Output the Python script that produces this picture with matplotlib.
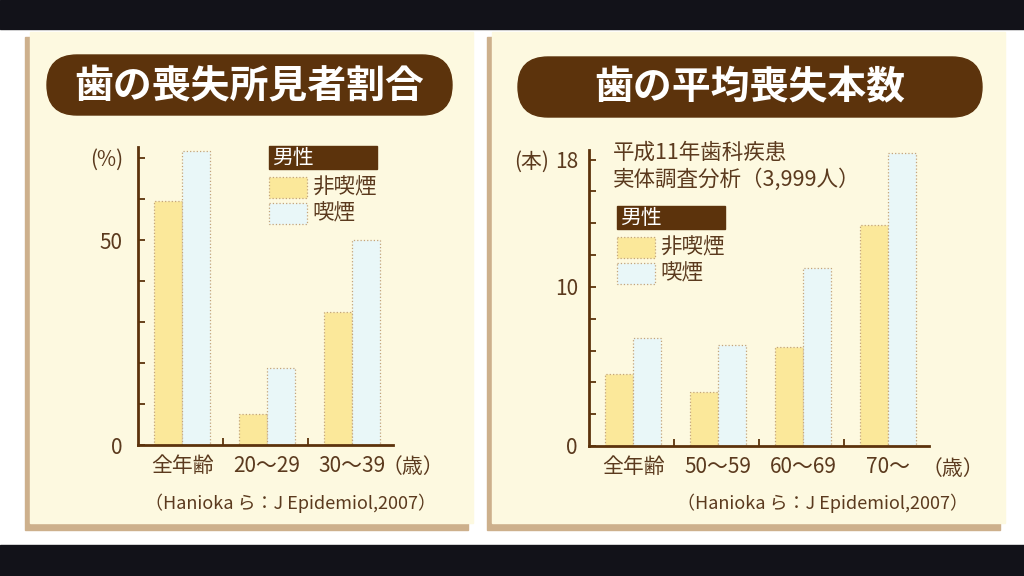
import matplotlib.pyplot as plt
from matplotlib.patches import Rectangle, FancyBboxPatch

plt.rcParams['font.family'] = ['Noto Sans CJK JP', 'DejaVu Sans']

# 左: 歯の喪失所見者割合 (%)
loss_cats = ['全年齢', '20〜29', '30〜39']
loss_nonsmoker = [59.5, 7.6, 32.4]
loss_smoker = [71.7, 18.8, 50.0]

# 右: 歯の平均喪失本数 (本)
count_cats = ['全年齢', '50〜59', '60〜69', '70〜']
count_nonsmoker = [4.5, 3.4, 6.2, 13.9]
count_smoker = [6.8, 6.35, 11.2, 18.4]

W, H = 1024, 576
BROWN = '#5c330c'
TEXT = '#5b3a1e'
CREAM = '#fdf9e0'
YELLOW = '#fbe89a'
CYAN = '#e9f7f8'
EDGE = '#c4a47a'
DARK = '#121219'

fig = plt.figure(figsize=(W / 100, H / 100), dpi=100)

# background layer in pixel coordinates
bg = fig.add_axes([0, 0, 1, 1])
bg.set_xlim(0, W)
bg.set_ylim(H, 0)
bg.axis('off')


def box(x0, y0, x1, y1, **kw):
    bg.add_patch(Rectangle((x0, y0), x1 - x0, y1 - y0, **kw))


box(0, 0, W, H, color='white')
box(0, 0, W, 29, color=DARK)
box(0, 545, W, H, color=DARK)
for x0, x1 in [(30, 473), (492, 1005)]:
    box(x0 - 5, 37, x1 - 5, 530, color='#cdb08c')
    box(x0, 32, x1, 523, color=CREAM)

# title pills
for (x0, x1, y0, y1), title in [((47, 452, 55, 115), '歯の喪失所見者割合'),
                                ((518, 982, 57, 117), '歯の平均喪失本数')]:
    bg.add_patch(FancyBboxPatch((x0, y0), x1 - x0, y1 - y0,
                                boxstyle='round,pad=0,rounding_size=30',
                                color=BROWN))
    bg.text((x0 + x1) / 2, (y0 + y1) / 2 + 1, title, color='white',
            fontsize=28, fontweight='bold', ha='center', va='center')


def legend(x, y):
    box(x, y, x + 108, y + 23, color=BROWN)
    bg.text(x + 3, y + 11.5, '男性', color='white', fontsize=15, va='center')
    for i, (c, lab) in enumerate([(YELLOW, '非喫煙'), (CYAN, '喫煙')]):
        yy = y + 31 + i * 26
        box(x, yy, x + 38, yy + 21, facecolor=c, edgecolor=EDGE,
            linestyle=':', linewidth=0.9)
        bg.text(x + 43, yy + 10, lab, color=TEXT, fontsize=15.5, va='center')


legend(269, 146)
legend(617, 206)

bg.text(613, 153, '平成11年歯科疾患', color=TEXT, fontsize=15.5, va='center')
bg.text(613, 180, '実体調査分析（3,999人）', color=TEXT, fontsize=15.5, va='center')

bg.text(107, 160, '(%)', color=TEXT, fontsize=15, ha='center', va='center')
bg.text(532, 162, '(本)', color=TEXT, fontsize=15, ha='center', va='center')
bg.text(413, 467, '（歳）', color=TEXT, fontsize=15, ha='center', va='center')
bg.text(953, 469, '（歳）', color=TEXT, fontsize=15, ha='center', va='center')
bg.text(436, 503, '（Hanioka ら：J Epidemiol,2007）', color=TEXT,
        fontsize=13, ha='right', va='center')
bg.text(968, 503, '（Hanioka ら：J Epidemiol,2007）', color=TEXT,
        fontsize=13, ha='right', va='center')


def chart(x0, y0, x1, y1, cats, nonsmoker, smoker, ymax, yticks, ylabels, ypad):
    ax = fig.add_axes([x0 / W, 1 - y1 / H, (x1 - x0) / W, (y1 - y0) / H])
    ax.patch.set_alpha(0)
    w = 0.33
    xs = [i + 0.52 for i in range(len(cats))]
    ax.bar([x - w / 2 for x in xs], nonsmoker, w, color=YELLOW,
           edgecolor=EDGE, linestyle=':', linewidth=0.9)
    ax.bar([x + w / 2 for x in xs], smoker, w, color=CYAN,
           edgecolor=EDGE, linestyle=':', linewidth=0.9)
    ax.set_xlim(0, len(cats))
    ax.set_ylim(0, ymax)
    for s in ['top', 'right']:
        ax.spines[s].set_visible(False)
    for s in ['left', 'bottom']:
        ax.spines[s].set_color(BROWN)
        ax.spines[s].set_linewidth(2)
    ax.set_yticks(yticks)
    ax.set_yticklabels(ylabels)
    ax.tick_params(axis='y', direction='in', length=5, width=1.3,
                   color=BROWN, labelcolor=TEXT, labelsize=15, pad=ypad)
    ax.set_xticks(xs)
    ax.set_xticklabels(cats)
    ax.tick_params(axis='x', length=0, labelcolor=TEXT, labelsize=15, pad=7)
    ax.set_xticks(range(1, len(cats)), minor=True)
    ax.tick_params(axis='x', which='minor', direction='in', length=5,
                   width=1.3, color=BROWN)
    return ax


chart(138, 147, 393, 445, loss_cats, loss_nonsmoker, loss_smoker,
      72.7, range(0, 71, 10), ['0', '', '', '', '', '50', '', ''], 11)
chart(589, 150, 929, 446, count_cats, count_nonsmoker, count_smoker,
      18.6, range(0, 19, 2), ['0', '', '', '', '', '10', '', '', '', '18'], 8)

fig.savefig('out.png', dpi=100)
